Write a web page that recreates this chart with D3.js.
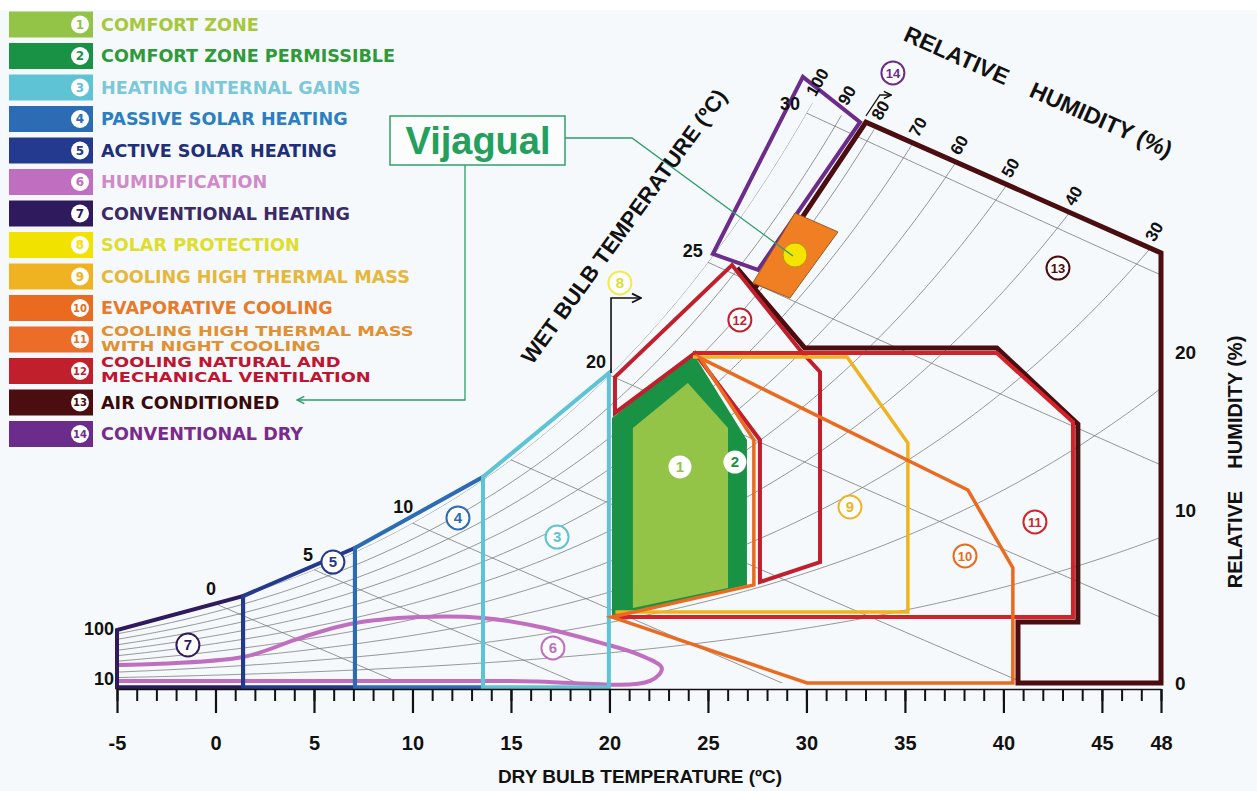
<!DOCTYPE html>
<html>
<head>
<meta charset="utf-8">
<script src="https://cdn.jsdelivr.net/npm/d3@7"></script>
<style>
  body { margin: 0; background: #ffffff; }
  svg text { font-family: "Liberation Sans", Arial, sans-serif; font-weight: bold; }
  .legend text { font-family: "DejaVu Sans", sans-serif; }
</style>
</head>
<body>
<svg id="chart" width="1257" height="791"></svg>
<script>
// ---- legend ----
const legendLabels = [
  ["COMFORT ZONE"],
  ["COMFORT ZONE PERMISSIBLE"],
  ["HEATING INTERNAL GAINS"],
  ["PASSIVE SOLAR HEATING"],
  ["ACTIVE SOLAR HEATING"],
  ["HUMIDIFICATION"],
  ["CONVENTIONAL HEATING"],
  ["SOLAR PROTECTION"],
  ["COOLING HIGH THERMAL MASS"],
  ["EVAPORATIVE COOLING"],
  ["COOLING HIGH THERMAL MASS", "WITH NIGHT COOLING"],
  ["COOLING NATURAL AND", "MECHANICAL VENTILATION"],
  ["AIR CONDITIONED"],
  ["CONVENTIONAL DRY"]
];
const zoneColors = ["#93c347", "#199245", "#5ec3d5", "#2c6cb4", "#233a8e", "#c06fc0", "#2e1a5c",
                    "#f2e200", "#efb322", "#ea6a20", "#ec6d28", "#c21f2c", "#4a0d10", "#6b2c8c"];
const legendTextColors = ["#a6c83a", "#2f9a3a", "#7cc8da", "#2b7fc0", "#1f2f7a", "#d08ac8", "#3a2a66",
                          "#dede2c", "#e5b83a", "#e87a2a", "#e39030", "#c01530", "#3a0a0a", "#7a2a8c"];

// ---- axes ----
const dryBulbTicks = [-5, 0, 5, 10, 15, 20, 25, 30, 35, 40, 45, 48];
const rightTicks = [0, 10, 20];
const leftLabels = [100, 10];            // relative humidity at -5 ºC
const rhLevels = [10, 20, 30, 40, 50, 60, 70, 80, 90, 100];
const rhLabels = [100, 90, 80, 70, 60, 50, 40, 30];
const wetBulbLevels = [0, 5, 10, 15, 20, 25, 30];
const wetBulbLabels = [0, 5, 10, 20, 25, 30];

// ---- zones: [dry bulb ºC, humidity ratio g/kg] ----
const zone1 = [[21.19, 3.57], [21.19, 12.14], [23.98, 14.29], [26.02, 12.14], [26.02, 4.52]];
const zone2 = [[20.13, 3.14], [20.13, 12.62], [24.24, 15.71], [26.98, 11.57], [26.98, 4.67]];
const zone3 = [[13.58, -0.2], [13.58, 9.81], [19.97, 14.76], [19.97, -0.2]];
const zone4 = [[7.08, -0.2], [7.08, 6.43], [13.58, 9.81], [13.58, -0.2]];
const zone5 = [[1.4, -0.2], [1.4, 4.14], [7.08, 6.43], [7.08, -0.2]];
const zone6 = [[-5, 0.86], [1.4, 1.24], [4.29, 2.14], [6.83, 2.81], [10.28, 3.14], [13.58, 3.1],
               [16.47, 2.67], [19.42, 1.95], [21.55, 1.33], [22.66, 0.71], [22.06, 0.1], [15, 0.1], [-5, 0.1]];
const zone7 = [[-5, -0.2], [-5, 2.52], [1.4, 4.14], [1.4, -0.2]];
const zone8 = [[20.08, 14.76], [20.08, 18.33], [21.6, 18.33]];
const zone9 = [[24.24, 15.52], [32.06, 15.52], [35.15, 11.43], [35.15, 3.38], [20.3, 3.38]];
const zone10 = [[20.13, 3.14], [27.33, 4.67], [27.33, 11.57], [24.6, 15.48], [38.2, 9.19],
                [40.48, 5.48], [40.48, 0], [30.03, 0]];
const zone11 = [[20.13, 3.14], [43.53, 3.14], [43.53, 12.43], [39.67, 15.71], [24.24, 15.71]];
const zone12 = [[20.28, 12.86], [20.28, 14.57], [26.22, 19.9], [29.67, 15.86], [30.69, 14.81],
                [30.69, 5.76], [27.64, 4.81], [27.64, 11.57], [24.34, 15.71]];
const zone13 = [[26.47, 19.76], [29.92, 15.95], [39.67, 15.95], [43.78, 12.33], [43.78, 2.9],
                [40.74, 2.9], [40.74, 0], [48, 0], [48, 20.48], [33.02, 26.71], [27.39, 18.81]];
const zone14 = [[25.25, 20.43], [27.54, 19.67], [32.72, 26.71], [29.82, 28.86]];
const zone14Arrow = [[33.02, 27.0], [33.73, 28.0], [34.3, 28.0]];
const siteArea = [[29.42, 22.38], [31.6, 21.48], [29.16, 18.33], [27.28, 19.05]];
const sitePoint = [29.42, 20.38];

const zoneLabelIds = [1, 2, 3, 4, 5, 6, 7, 8, 9, 10, 11, 12, 13, 14];
const zoneLabelAt = [[23.58, 10.29], [26.37, 10.52], [17.34, 6.95], [12.31, 7.86], [5.96, 5.76],
                     [17.13, 1.67], [-1.4, 1.81], [20.53, 19.05], [32.21, 8.38], [38.05, 6.05],
                     [41.6, 7.67], [26.62, 17.29], [42.77, 19.76], [34.39, 29.05]];

// ---- chart ----
const svg = d3.select("#chart");
const x = d3.scaleLinear().domain([-5, 48]).range([117, 1161]);
const y = d3.scaleLinear().domain([0, 30]).range([683, 53]);
const yRight = d3.scaleLinear().domain([0, 10, 20]).range([683, 510, 352]);
const line = d3.line().x(d => x(d[0])).y(d => y(d[1]));

svg.append("rect").attr("width", 1257).attr("height", 791).attr("fill", "#f6f9fc");
svg.append("rect").attr("width", 1257).attr("height", 10).attr("fill", "#ffffff");

// psychrometric grid
const P = 101.325;
const pSat = t => 0.61094 * Math.exp(17.625 * t / (t + 243.04));
const wRH = (t, rh) => { const pv = rh / 100 * pSat(t); return 622 * pv / (P - pv); };
const wWB = (t, twb) => {
  const ws = wRH(twb, 100) / 1000;
  return 1000 * ((2501 - 2.326 * twb) * ws - 1.006 * (t - twb)) / (2501 + 1.86 * t - 4.186 * twb);
};
const topA = zone13[9], topB = zone13[8];
const wTop = t => topA[1] + (t - topA[0]) * (topB[1] - topA[1]) / (topB[0] - topA[0]);
const temps = d3.range(-5, 48.001, 0.1);

const clipPts = temps.filter(t => wRH(t, 100) <= wTop(t)).map(t => [t, wRH(t, 100)]);
clipPts.push([48, wTop(48)], [48, 0], [-5, 0]);
svg.append("defs").append("clipPath").attr("id", "gridClip")
  .append("path").attr("d", line(clipPts) + "Z");

const defs = svg.select("defs");
[["arrowBlack", "#111"], ["arrowGreen", "#2e9c6a"]].forEach(([id, c]) => {
  defs.append("marker").attr("id", id).attr("viewBox", "0 0 10 10").attr("refX", 9).attr("refY", 5)
    .attr("markerWidth", 7).attr("markerHeight", 7).attr("orient", "auto-start-reverse")
    .append("path").attr("d", "M1,1 L9,5 L1,9").attr("fill", "none").attr("stroke", c).attr("stroke-width", 1.6);
});

const grid = svg.append("g").attr("clip-path", "url(#gridClip)")
  .attr("fill", "none").attr("stroke", "#7a7a7a").attr("stroke-width", 0.8);
rhLevels.forEach(rh => {
  grid.append("path").attr("d", d3.line().x(d => x(d[0])).y(d => y(d[1])).curve(d3.curveMonotoneX)(
    temps.map(t => [t, wRH(t, rh)])));
});
wetBulbLevels.forEach(twb => {
  const pts = d3.range(twb, 48.001, 0.5).map(t => [t, wWB(t, twb)]);
  grid.append("path").attr("d", line(pts));
});

// comfort fills
svg.append("path").attr("d", line(zone2) + "Z").attr("fill", zoneColors[1]);
svg.append("path").attr("d", line(zone1) + "Z").attr("fill", zoneColors[0]);

const outlines = svg.append("g").attr("fill", "none").attr("stroke-linejoin", "miter");
const drawZone = (pts, color, closed, width, curve) => {
  const gen = curve ? line.curve(curve) : line.curve(d3.curveLinear);
  outlines.append("path").attr("d", gen(pts) + (closed ? "Z" : ""))
    .attr("stroke", color).attr("stroke-width", width || 4);
  line.curve(d3.curveLinear);
};
drawZone(zone6, zoneColors[5], false, 4, d3.curveCatmullRom.alpha(0.5));
drawZone(zone7, zoneColors[6], true, 4);
drawZone(zone5, zoneColors[4], true, 4);
drawZone(zone4, zoneColors[3], true, 4);
drawZone(zone3, zoneColors[2], true, 4);
drawZone(zone13, zoneColors[12], false, 5);
drawZone(zone12, zoneColors[11], true, 4);
drawZone(zone11, "#d2232a", false, 4);
drawZone(zone9, zoneColors[8], false, 3.5);
drawZone(zone10, zoneColors[9], true, 3.5);
drawZone(zone14, zoneColors[13], true, 4);

outlines.append("path").attr("d", line(zone8)).attr("stroke", "#111").attr("stroke-width", 1.6)
  .attr("marker-end", "url(#arrowBlack)");
outlines.append("path").attr("d", line(zone14Arrow)).attr("stroke", "#111").attr("stroke-width", 1.3)
  .attr("marker-end", "url(#arrowBlack)");

svg.append("path").attr("d", line(siteArea) + "Z").attr("fill", "#f07e22")
  .attr("stroke", "#9a5a20").attr("stroke-width", 1);
svg.append("circle").attr("cx", x(sitePoint[0])).attr("cy", y(sitePoint[1])).attr("r", 12)
  .attr("fill", "#f5e400").attr("stroke", "#b59b10").attr("stroke-width", 1);

// zone number badges
const badges = svg.append("g");
zoneLabelIds.forEach((id, i) => {
  const [t, w] = zoneLabelAt[i];
  const c = id === 11 ? "#d2232a" : zoneColors[id - 1];
  const g = badges.append("g").attr("transform", `translate(${x(t)},${y(w)})`);
  g.append("circle").attr("r", 11.5).attr("fill", "#ffffff")
    .attr("stroke", id <= 2 ? "none" : c).attr("stroke-width", 2)
    .attr("stroke-opacity", id === 8 ? 0.7 : 1);
  g.append("text").attr("text-anchor", "middle").attr("dy", "0.36em")
    .attr("font-size", id >= 10 ? 13 : 15).attr("fill", id === 8 ? "#e0dc30" : c).text(id);
});

// callout
const callout = svg.append("g");
callout.append("rect").attr("x", 390).attr("y", 116).attr("width", 175).attr("height", 49)
  .attr("fill", "#fbfdfc").attr("stroke", "#30a06a").attr("stroke-width", 1.5);
callout.append("text").attr("x", 478).attr("y", 154).attr("text-anchor", "middle")
  .attr("font-size", 38).attr("font-weight", "normal").attr("fill", "#22a05c").text("Vijagual");
callout.append("path").attr("d", `M565,138 L632,138 L${x(sitePoint[0]) - 2},${y(sitePoint[1]) + 1}`)
  .attr("fill", "none").attr("stroke", "#2e9c6a").attr("stroke-width", 1.3);
callout.append("path").attr("d", "M465,165 L465,400 L297,400")
  .attr("fill", "none").attr("stroke", "#2e9c6a").attr("stroke-width", 1.3)
  .attr("marker-end", "url(#arrowGreen)");

// bottom axis
const axisY = 689;
svg.append("g").attr("transform", `translate(0,${axisY})`)
  .call(d3.axisBottom(x).tickValues(d3.range(-5, 49)).tickSize(12).tickSizeOuter(0).tickFormat(""))
  .call(g => g.select(".domain").attr("stroke", "#111").attr("stroke-width", 1.5))
  .call(g => g.selectAll(".tick line").attr("stroke", "#111").attr("stroke-width", 2));
svg.append("g").attr("transform", `translate(0,${axisY})`)
  .call(d3.axisBottom(x).tickValues(dryBulbTicks).tickSize(24).tickSizeOuter(0).tickPadding(23)
    .tickFormat(d => String(d)))
  .call(g => g.select(".domain").remove())
  .call(g => g.selectAll(".tick line").attr("stroke", "#111").attr("stroke-width", 2.2))
  .call(g => g.selectAll(".tick text").attr("font-size", 20).attr("font-weight", "bold")
    .attr("font-family", "'Liberation Sans', Arial, sans-serif").attr("fill", "#111"));
svg.append("text").attr("x", 640).attr("y", 783).attr("text-anchor", "middle")
  .attr("font-size", 19).attr("fill", "#111").text("DRY BULB TEMPERATURE (ºC)");

// right axis labels
rightTicks.forEach(v => {
  svg.append("text").attr("x", 1175).attr("y", yRight(v) + 7).attr("font-size", 19)
    .attr("fill", "#111").text(v);
});
svg.append("text").attr("transform", "translate(1242,462) rotate(-90)").attr("text-anchor", "middle")
  .attr("font-size", 20).attr("fill", "#111").text("RELATIVE\u00a0\u00a0\u00a0\u00a0HUMIDITY (%)");

// left labels (relative humidity at -5 ºC)
leftLabels.forEach(rh => {
  svg.append("text").attr("x", x(-5) - 3).attr("y", y(wRH(-5, rh)) + 7).attr("text-anchor", "end")
    .attr("font-size", 18).attr("fill", "#111").text(rh);
});

// wet bulb labels: set off along the normal to the saturation curve
wetBulbLabels.forEach(t => {
  const px = x(t), py = y(wRH(t, 100));
  const sx = x(t + 0.5) - x(t - 0.5), sy = y(wRH(t + 0.5, 100)) - y(wRH(t - 0.5, 100));
  const len = Math.hypot(sx, sy), d = 13 + 3 * String(t).length;
  const nx = sy / len, ny = -sx / len;     // upper-left normal
  svg.append("text").attr("x", px + nx * d).attr("y", py + ny * d).attr("dy", "0.35em")
    .attr("text-anchor", "middle").attr("font-size", 18).attr("fill", "#111").text(t);
});
svg.append("text").attr("transform", "translate(630,231) rotate(-54)").attr("text-anchor", "middle")
  .attr("font-size", 22).attr("fill", "#111").text("WET BULB TEMPERATURE (ºC)");

// relative humidity labels just above the top of each curve
rhLabels.forEach(rh => {
  let tEnd = 48;
  for (const t of temps) { if (t > 20 && wRH(t, rh) >= wTop(t)) { tEnd = t; break; } }
  const px = x(tEnd) + 3, py = y(Math.min(wRH(tEnd, rh), wTop(tEnd))) - 17;
  svg.append("text").attr("transform", `translate(${px},${py}) rotate(-60)`)
    .attr("text-anchor", "middle").attr("dy", "0.35em").attr("font-size", 17).attr("fill", "#111").text(rh);
});
svg.append("text").attr("transform", "translate(1035,99) rotate(24)").attr("text-anchor", "middle")
  .attr("font-size", 23).attr("fill", "#111").text("RELATIVE\u00a0\u00a0\u00a0\u00a0HUMIDITY (%)");

// legend
const legend = svg.append("g").attr("class", "legend");
legendLabels.forEach((lines, i) => {
  const cy = 24.5 + 31.5 * i;
  legend.append("rect").attr("x", 9).attr("y", cy - 13).attr("width", 84).attr("height", 26)
    .attr("fill", zoneColors[i]);
  legend.append("circle").attr("cx", 80).attr("cy", cy).attr("r", 9).attr("fill", "#ffffff");
  legend.append("text").attr("x", 80).attr("y", cy).attr("dy", "0.36em").attr("text-anchor", "middle")
    .attr("font-size", i >= 9 ? 10 : 12).attr("fill", zoneColors[i]).text(i + 1);
  if (lines.length === 1) {
    legend.append("text").attr("fill", legendTextColors[i])
      .attr("x", 101).attr("y", cy + 6).attr("font-size", 17.6).text(lines[0]);
  } else {
    // two compressed lines, as in the original legend
    const g = legend.append("g").attr("transform", `translate(101,${cy}) scale(1.15,0.85)`);
    lines.forEach((s, j) => {
      g.append("text").attr("fill", legendTextColors[i]).attr("font-size", 15.5)
        .attr("y", j === 0 ? -4.5 : 13.5).text(s);
    });
  }
});
</script>
</body>
</html>
